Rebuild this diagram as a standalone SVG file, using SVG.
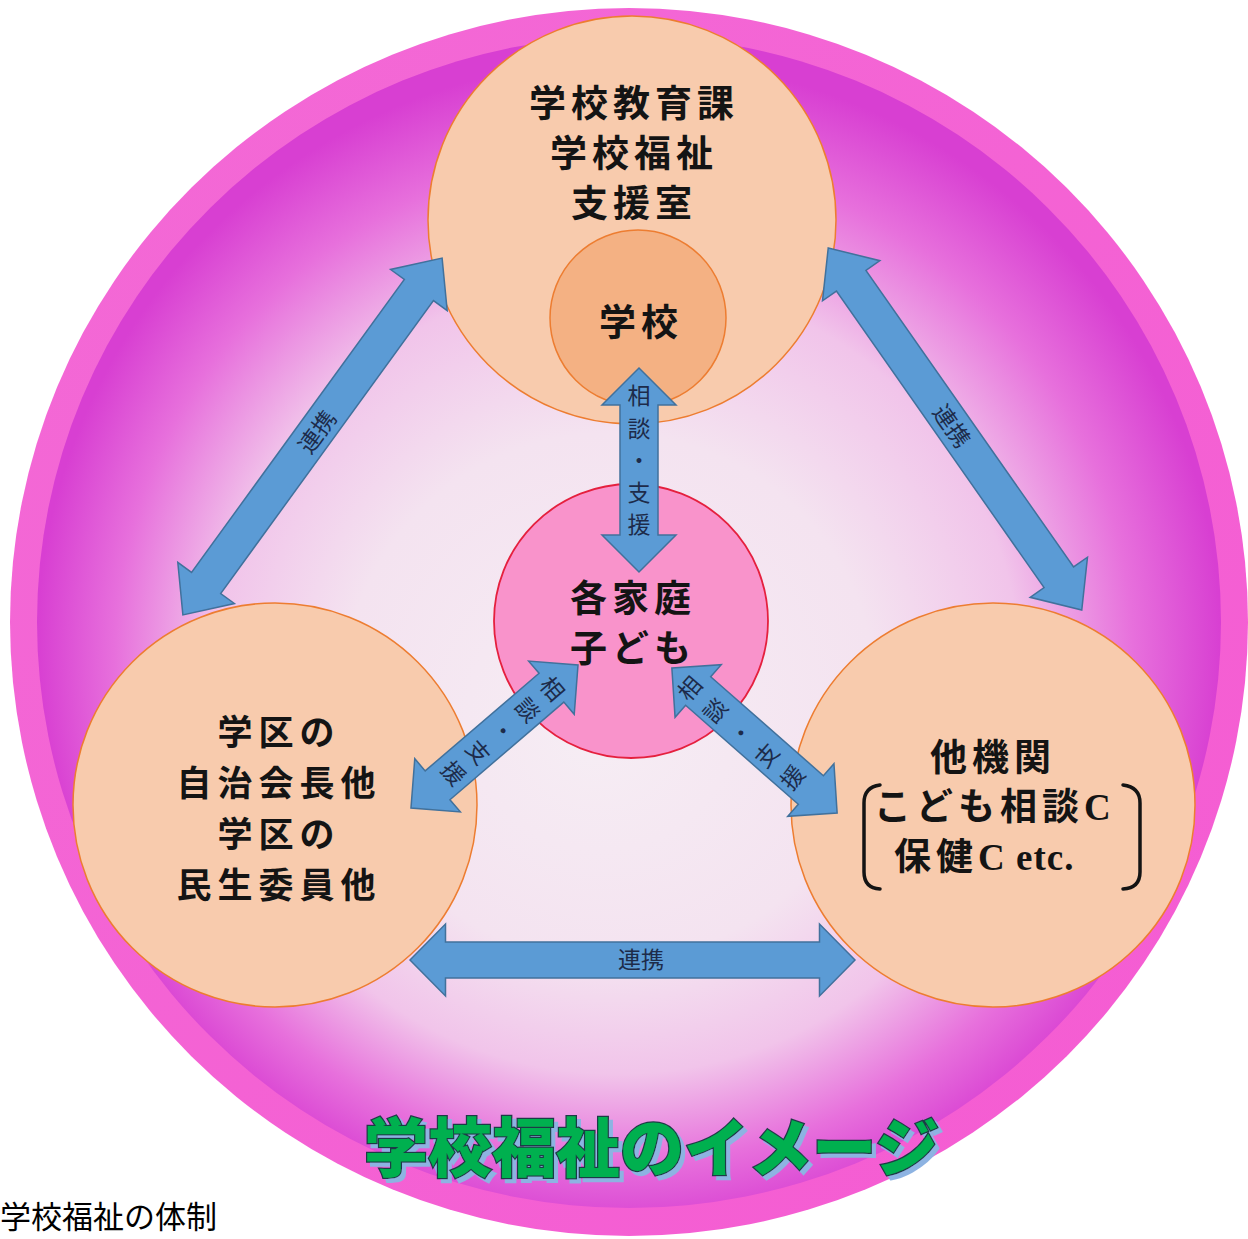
<svg xmlns="http://www.w3.org/2000/svg" width="1248" height="1239" viewBox="0 0 1248 1239">
  <defs>
    <radialGradient id="bg" cx="50%" cy="52%" r="50%" fx="47%" fy="60%">
      <stop offset="0" stop-color="#f6edf4"/>
      <stop offset="0.45" stop-color="#f4e3f0"/>
      <stop offset="0.68" stop-color="#f1c4ea"/>
      <stop offset="0.86" stop-color="#e770dc"/>
      <stop offset="1" stop-color="#d83fd2"/>
    </radialGradient>
    <linearGradient id="ring" x1="0" y1="0" x2="1" y2="1">
      <stop offset="0" stop-color="#f36ad6"/>
      <stop offset="1" stop-color="#f55bd2"/>
    </linearGradient>
    <filter id="shadow" x="-5%" y="-20%" width="110%" height="140%">
      <feOffset in="SourceAlpha" dx="4" dy="4" result="off"/>
      <feFlood flood-color="#8db3e2"/>
      <feComposite in2="off" operator="in" result="sh"/>
      <feMerge>
        <feMergeNode in="sh"/>
        <feMergeNode in="SourceGraphic"/>
      </feMerge>
    </filter>
  </defs>
  <style>
    .node { fill: #f8cbad; stroke: #ed7d31; stroke-width: 1.5; }
    .inner { fill: #f4b183; stroke: #ed7d31; stroke-width: 1.5; }
    .hub { fill: #f993cb; stroke: #e5203e; stroke-width: 1.8; }
    .arrow { fill: #5b9bd5; stroke: #41719c; stroke-width: 1.5; stroke-linejoin: miter; }
    .lbl { font-family: "Noto Sans CJK JP", "Noto Sans", sans-serif; font-weight: 700; font-size: 37px; fill: #141414; text-anchor: middle; letter-spacing: 5px; }
    .sm { font-size: 35px; letter-spacing: 6px; }
    .alb { font-family: "Noto Sans CJK JP", "Noto Sans", sans-serif; font-size: 23px; fill: #1d2b4a; text-anchor: middle; dominant-baseline: central; }
    .ser { font-family: "Liberation Serif", "Noto Sans CJK JP", serif; font-weight: 700; }
    .title { font-family: "Noto Sans CJK JP", "Noto Sans", sans-serif; font-weight: 900; font-size: 64px; }
    .caption { font-family: "Noto Sans CJK JP", "Noto Sans", sans-serif; font-size: 31px; fill: #000; }
    .brk { fill: none; stroke: #141414; stroke-width: 3.5; stroke-linecap: round; }
  </style>

  <rect x="0" y="0" width="1248" height="1239" fill="#ffffff"/>

  <g id="background">
    <ellipse cx="629" cy="622" rx="619" ry="614" fill="url(#ring)"/>
    <ellipse cx="629" cy="622" rx="592" ry="586" fill="url(#bg)"/>
  </g>

  <g id="node-top">
    <circle cx="632" cy="220" r="204" class="node"/>
    <text class="lbl" x="634" y="117">学校教育課</text>
    <text class="lbl" x="634" y="167">学校福祉</text>
    <text class="lbl" x="634" y="217">支援室</text>
  </g>

  <g id="node-school">
    <circle cx="638" cy="318" r="88" class="inner"/>
    <text class="lbl" x="641" y="336">学校</text>
  </g>

  <g id="node-center">
    <circle cx="631" cy="621" r="137" class="hub"/>
    <text class="lbl" x="633" y="612">各家庭</text>
    <text class="lbl" x="633" y="662">子ども</text>
  </g>

  <g id="node-left">
    <circle cx="275" cy="805" r="202" class="node"/>
    <text class="lbl sm" x="279" y="745">学区の</text>
    <text class="lbl sm" x="279" y="796">自治会長他</text>
    <text class="lbl sm" x="279" y="847">学区の</text>
    <text class="lbl sm" x="279" y="898">民生委員他</text>
  </g>

  <g id="node-right">
    <circle cx="993" cy="805" r="202" class="node"/>
    <text class="lbl" x="993" y="771">他機関</text>
    <text class="lbl" x="874" y="820" style="text-anchor:start">こども相談<tspan class="ser" letter-spacing="0">C</tspan></text>
    <text class="lbl" x="894" y="870" style="text-anchor:start">保健<tspan class="ser" letter-spacing="1">C etc.</tspan></text>
    <path class="brk" d="M880 785 Q864 787 864 803 L864 872 Q864 888 880 889"/>
    <path class="brk" d="M1123 785 Q1140 787 1140 803 L1140 872 Q1140 888 1123 889"/>
  </g>

  <g id="connectors">
    <polygon class="arrow" transform="translate(639 470) rotate(90)" points="-102,0 -65,-37 -65,-19 65,-19 65,-37 102,0 65,37 65,19 -65,19 -65,37"/>
    <polygon class="arrow" transform="translate(494.5 736.5) rotate(-40.6)" points="-110,0 -75,-35 -75,-19 75,-19 75,-35 110,0 75,35 75,19 -75,19 -75,35"/>
    <polygon class="arrow" transform="translate(754.5 740.5) rotate(41.3)" points="-110,0 -75,-35 -75,-19 75,-19 75,-35 110,0 75,35 75,19 -75,19 -75,35"/>
    <polygon class="arrow" transform="translate(312.5 436.5) rotate(-54)" points="-220.5,0 -181,-35 -181,-18 181,-18 181,-35 220.5,0 181,35 181,18 -181,18 -181,35"/>
    <polygon class="arrow" transform="translate(955 429) rotate(55)" points="-221,0 -181,-35 -181,-18 181,-18 181,-35 221,0 181,35 181,18 -181,18 -181,35"/>
    <polygon class="arrow" transform="translate(632.5 960)" points="-222.5,0 -187,-36 -187,-18 187,-18 187,-36 222.5,0 187,36 187,18 -187,18 -187,36"/>

    <g id="label-vertical">
      <text class="alb" x="639" y="394">相</text>
      <text class="alb" x="639" y="427">談</text>
      <text class="alb" x="639" y="459">・</text>
      <text class="alb" x="639" y="491">支</text>
      <text class="alb" x="639" y="523">援</text>
    </g>
    <g id="label-left-diag" transform="translate(504 730) rotate(49.4)">
      <text class="alb" x="0" y="-65">相</text>
      <text class="alb" x="0" y="-32.5">談</text>
      <text class="alb" x="0" y="0">・</text>
      <text class="alb" x="0" y="32.5">支</text>
      <text class="alb" x="0" y="65">援</text>
    </g>
    <g id="label-right-diag" transform="translate(740 732) rotate(-49.1)">
      <text class="alb" x="0" y="-68">相</text>
      <text class="alb" x="0" y="-34">談</text>
      <text class="alb" x="0" y="0">・</text>
      <text class="alb" x="0" y="34">支</text>
      <text class="alb" x="0" y="68">援</text>
    </g>
    <text class="alb" transform="translate(316 431) rotate(-54)" x="0" y="0">連携</text>
    <text class="alb" transform="translate(953 425) rotate(55)" x="0" y="0">連携</text>
    <text class="alb" x="641" y="958">連携</text>
  </g>

  <g id="title" filter="url(#shadow)">
    <text class="title" x="364" y="1171" textLength="575" lengthAdjust="spacingAndGlyphs" fill="#00b050" stroke="#1f3b46" stroke-width="2.5" paint-order="stroke">学校福祉のイメージ</text>
  </g>

  <text id="caption" class="caption" x="0" y="1228">学校福祉の体制</text>
</svg>
